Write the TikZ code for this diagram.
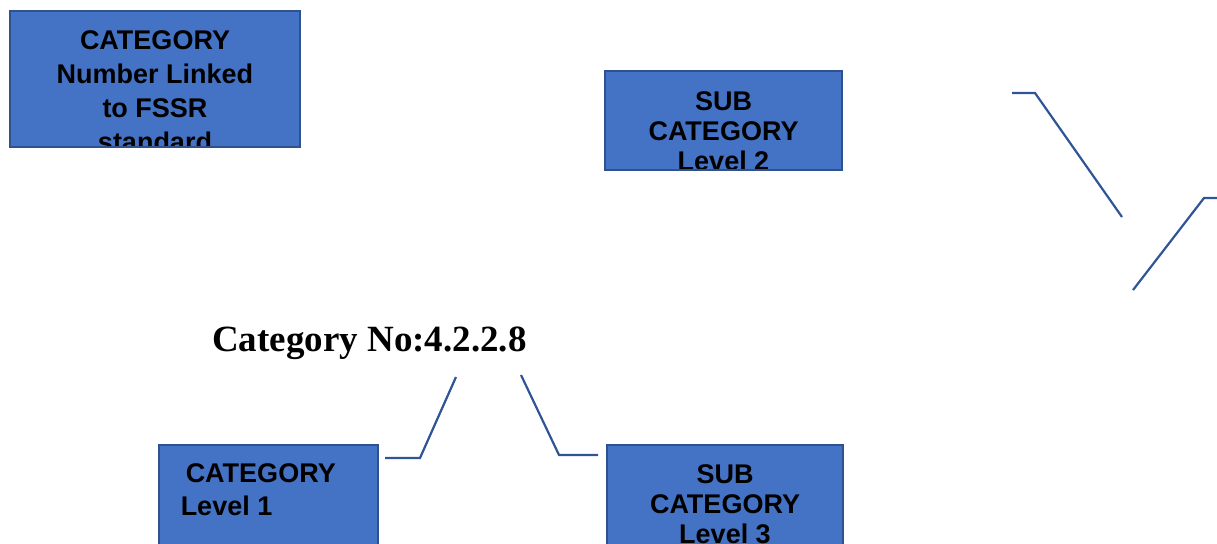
\documentclass[tikz,border=0pt]{standalone}
\usepackage{fontspec}
\setmainfont{Liberation Sans}
\newfontfamily\titlefont{Liberation Serif}
\definecolor{cfill}{HTML}{4472C4}
\definecolor{cedge}{HTML}{2F528F}
\definecolor{cline}{HTML}{2F5597}
\tikzset{
  every picture/.style={x=1pt, y=-1pt},
  catbox/.style={rectangle, draw=cedge, fill=cfill, line width=1.5pt, inner sep=0pt},
  boxlbl/.style={anchor=north, align=center, inner sep=0pt, minimum width=0pt, minimum height=0pt,
    font=\fontsize{27}{#1}\selectfont\bfseries},
  boxlbl/.default=30,
  callout/.style={draw=cline, line width=2.2pt},
  title/.style={font=\titlefont\fontsize{37}{44}\selectfont\bfseries, inner sep=0pt},
}

\begin{document}
\begin{tikzpicture}
  \useasboundingbox (0,0) rectangle (1217,543);
  \clip (0,0) rectangle (1217,543);

  % the four boxes, text cut off at the box edge
  \node[catbox, minimum width=290pt, minimum height=136pt,
    path picture={\node[boxlbl=34] at ([yshift=-19pt]path picture bounding box.north)
      {CATEGORY\\Number Linked\\to FSSR\\standard};}] (catnum) at (155,79) {};
  \node[catbox, minimum width=237pt, minimum height=99pt,
    path picture={\node[boxlbl] at ([yshift=-20pt]path picture bounding box.north)
      {SUB\\CATEGORY\\Level 2};}] (subtwo) at (723.5,120.5) {};
  \node[catbox, minimum width=219pt, minimum height=105pt,
    path picture={\node[boxlbl=33, anchor=north west, align=left]
      at ([xshift=21pt, yshift=-18pt]path picture bounding box.north west)
      {\hspace*{5pt}CATEGORY\\Level 1};}] (catone) at (268.5,497.5) {};
  \node[catbox, minimum width=236pt, minimum height=105pt,
    path picture={\node[boxlbl] at ([yshift=-19pt]path picture bounding box.north)
      {SUB\\CATEGORY\\Level 3};}] (subthree) at (725,497.5) {};

  \node[title, anchor=base west] (catno) at (212,351) {Category No:4.2.2.8};

  % callout lines
  \coordinate (oneA) at (385,458);
  \coordinate (oneB) at (420,458);
  \coordinate (oneC) at (456,377);
  \coordinate (threeA) at (598,455);
  \coordinate (threeB) at (559,455);
  \coordinate (threeC) at (521,375);
  \coordinate (twoA) at (1012,93);
  \coordinate (twoB) at (1035,93);
  \coordinate (twoC) at (1122,217);
  \coordinate (fourA) at (1222,198);
  \coordinate (fourB) at (1204,198);
  \coordinate (fourC) at (1133,290);
  \draw[callout] (oneA) -- (oneB) -- (oneC);
  \draw[callout] (threeA) -- (threeB) -- (threeC);
  \draw[callout] (twoA) -- (twoB) -- (twoC);
  \draw[callout] (fourA) -- (fourB) -- (fourC);
\end{tikzpicture}
\end{document}
